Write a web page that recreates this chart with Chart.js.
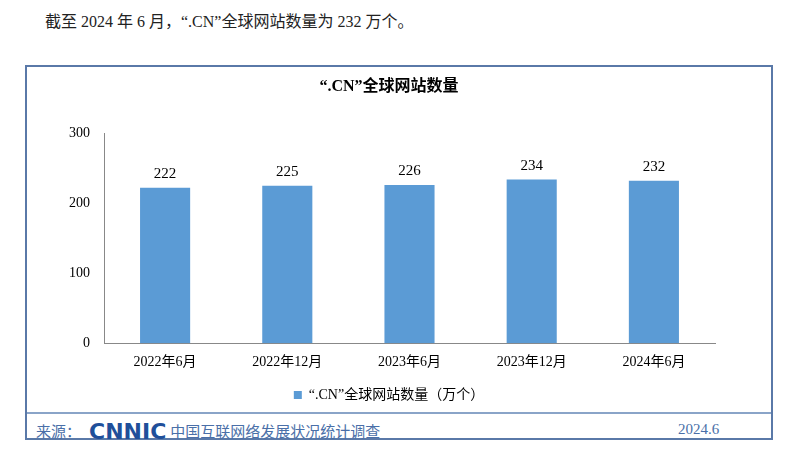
<!DOCTYPE html>
<html><head><meta charset="utf-8">
<script src="https://cdn.jsdelivr.net/npm/chart.js@4"></script>
<style>
body{margin:0;width:800px;height:464px;background:#fff;position:relative;font-family:"Liberation Serif","Noto Sans CJK SC",serif;overflow:hidden}
#top{position:absolute;left:45px;top:8px;font-size:16px;color:#222}
#box{position:absolute;left:25px;top:65px;width:748px;height:375px;border:2px solid #5a79a8;box-sizing:border-box}
#wrap{position:absolute;left:27px;top:67px;width:744px;height:345px}
#line{position:absolute;left:27px;top:412px;width:744px;height:2px;background:#8aa4c8}
#foot{position:absolute;left:36px;top:419px;font-size:15px;color:#4a6fa8;width:700px}
#logo{font-family:"DejaVu Sans",sans-serif;font-weight:bold;font-size:22px;color:#1f4f9a;letter-spacing:0px;margin:0 4px 0 8px;vertical-align:-2px}
#date{position:absolute;left:678px;top:421px;font-size:15px;color:#4a6fa8}
</style></head><body>
<div id="top">截至 2024 年 6 月，“.CN”全球网站数量为 232 万个。</div>
<div id="box"></div>
<div id="wrap"><canvas id="c"></canvas></div>
<div id="line"></div>
<div id="foot">来源：<span id="logo">CNNIC</span>中国互联网络发展状况统计调查</div>
<div id="date">2024.6</div>
<script>
const categories=["2022年6月","2022年12月","2023年6月","2023年12月","2024年6月"];
const values=[222,225,226,234,232];
const seriesName="“.CN”全球网站数量（万个）";
const yTicks=[0,100,200,300];
const F='"Liberation Serif","Noto Sans CJK SC",serif';
Chart.defaults.font.family=F;Chart.defaults.color='#000';
new Chart(document.getElementById('c'),{
type:'bar',
data:{labels:categories,datasets:[{label:seriesName,data:values,backgroundColor:'#5b9bd5',categoryPercentage:0.41,barPercentage:1}]},
options:{responsive:true,maintainAspectRatio:false,animation:false,
layout:{padding:{left:36,right:56,top:0,bottom:0}},
plugins:{title:{display:true,text:'“.CN”全球网站数量',font:{size:16,weight:'bold'},padding:{top:10,bottom:37}},
legend:{position:'bottom',labels:{boxWidth:8,boxHeight:8,font:{size:14},padding:14}},tooltip:{enabled:false}},
scales:{y:{min:0,max:300,afterBuildTicks:a=>{a.ticks=yTicks.map(v=>({value:v}))},grid:{display:false},border:{color:'#888'},ticks:{font:{size:14},padding:6}},
x:{grid:{display:false},border:{color:'#888'},ticks:{font:{size:14}}}}},
plugins:[{id:'lbl',afterDatasetsDraw(ch){const c=ch.ctx;c.save();c.font='15px '+F;c.fillStyle='#000';c.textAlign='center';c.textBaseline='bottom';
ch.getDatasetMeta(0).data.forEach((b,i)=>c.fillText(values[i],b.x,b.y-6));c.restore();}}]
});
</script></body></html>
